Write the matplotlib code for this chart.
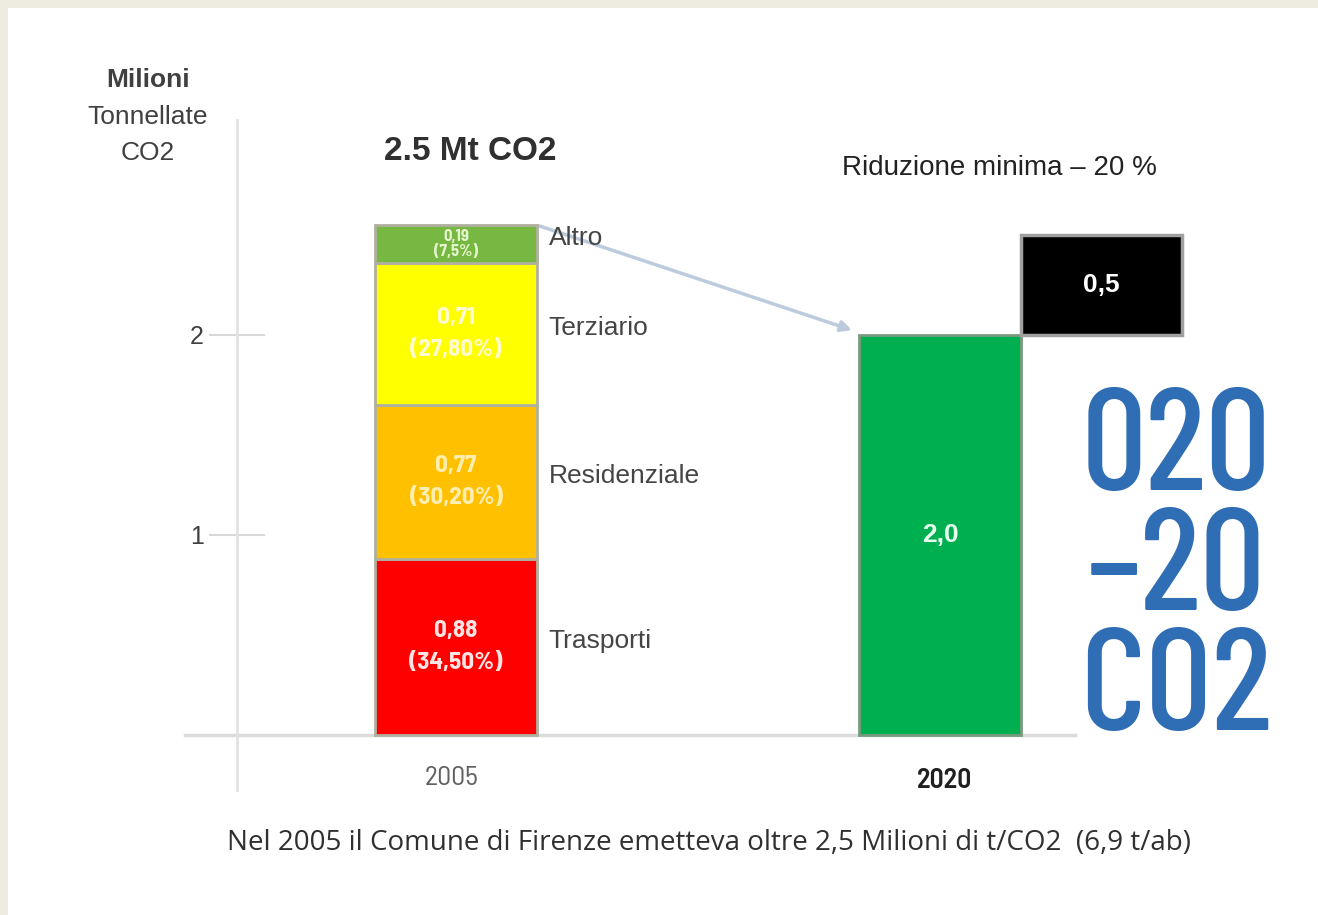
import numpy as np
import matplotlib
matplotlib.use("Agg")
import matplotlib.pyplot as plt
from matplotlib.patches import Rectangle

# data
years = ["2005", "2020"]
sectors = ["Trasporti", "Residenziale", "Terziario", "Altro"]
sector_values = [0.88, 0.77, 0.71, 0.19]
sector_labels = ["0,88\n(34,50%)", "0,77\n(30,20%)", "0,71\n(27,80%)", "0,19\n(7,5%)"]
target_2020 = 2.0
reduction = 0.5
target_label = "2,0"
reduction_label = "0,5"
y_ticks = [1, 2]

sector_colors = ["#ff0000", "#ffc000", "#ffff00", "#77b843"]
sector_text_colors = ["#ffe4e4", "#ffeeb0", "#fffbd0", "#e4f4cc"]
semi = ["Barlow Semi Condensed", "DejaVu Sans"]
sans = ["Liberation Sans", "DejaVu Sans"]

W, H = 1318, 915
fig = plt.figure(figsize=(W / 100, H / 100), dpi=100)
fig.patch.set_facecolor("#eeebe0")
fig.patches.append(Rectangle((8 / W, 0), 1, 1 - 8 / H, transform=fig.transFigure,
                             facecolor="white", edgecolor="none", zorder=-5))

# axes placed in pixel space: left spine at x=237, from y=120 to y=790
ax_l, ax_r, ax_t, ax_b = 237, 1262, 120, 790
ax = fig.add_axes([ax_l / W, 1 - ax_b / H, (ax_r - ax_l) / W, (ax_b - ax_t) / H])
ax.set_facecolor("none")

px_per_x = 484.0   # pixel distance between the two category centres
px_per_y = 200.0
x0_px, y0_px = 456, 735
ax.set_xlim((ax_l - x0_px) / px_per_x, (ax_r - x0_px) / px_per_x)
ax.set_ylim(-(ax_b - y0_px) / px_per_y, (y0_px - ax_t) / px_per_y)

x = np.arange(len(years))
width = 0.333

# 2005 stacked bar
bottom = 0
for val, col, lab, tcol, name in zip(sector_values, sector_colors, sector_labels,
                                     sector_text_colors, sectors):
    ax.bar(x[0], val, width, bottom=bottom, color=col, edgecolor="#b0b0a0",
           linewidth=2, zorder=3)
    small = val < 0.3
    ax.text(x[0], bottom + val / 2, lab, ha="center", va="center",
            fontsize=12 if small else 18, fontweight="bold", color=tcol,
            linespacing=1.05 if small else 1.6, zorder=4, family=semi)
    ax.text(x[0] + width / 2 + 0.025, bottom + val / 2 + 0.03, name, ha="left",
            va="center", fontsize=19, color="#454545", zorder=4, family=sans)
    bottom += val

# 2020 target and reduction
ax.bar(x[1], target_2020, width, color="#00b050", edgecolor="#7a9a80",
       linewidth=2, zorder=3)
ax.text(x[1], target_2020 / 2, target_label, ha="center", va="center",
        fontsize=19, fontweight="bold", color="#e8fff0", zorder=4, family=sans)
ax.bar(x[1] + width, reduction, width, bottom=target_2020, color="black",
       edgecolor="#a0a0a0", linewidth=2.5, zorder=3)
ax.text(x[1] + width, target_2020 + reduction / 2, reduction_label, ha="center",
        va="center", fontsize=19, fontweight="bold", color="white", zorder=4,
        family=sans)

# arrow from 2005 total down to 2020 target
ax.annotate("", xy=(x[1] - width / 2 - 0.01, target_2020 + 0.02),
            xytext=(x[0] + width / 2, sum(sector_values)),
            arrowprops=dict(arrowstyle="-|>", color="#bccbdc", lw=2.5,
                            mutation_scale=16), zorder=2)

# axis cosmetics
for s in ["top", "right", "bottom"]:
    ax.spines[s].set_visible(False)
ax.spines["left"].set_color("#e2e2e2")
ax.spines["left"].set_linewidth(2)
ax.set_xticks([])
ax.set_yticks(y_ticks)
ax.set_yticklabels([str(t) for t in y_ticks], fontsize=18, color="#404040",
                   family=sans)
ax.tick_params(axis="y", direction="inout", length=40, width=1.5,
               color="#d8d8d8", pad=4)
ax.plot([(185 - x0_px) / px_per_x, (1075 - x0_px) / px_per_x], [0, 0],
        color="#dcdcdc", lw=2.5, clip_on=False, zorder=2)

ax.text(x[0] - 0.01, -0.215, years[0], ha="center", va="center", fontsize=20,
        color="#606060", family=semi)
ax.text(x[1] + 0.01, -0.225, years[1], ha="center", va="center", fontsize=20,
        color="#202020", fontweight="semibold", family=semi)

# titles and annotations
fig.text(148 / W, 1 - 80 / H, "Milioni", ha="center", va="center",
         fontsize=19, color="#404040", fontweight="bold", family=sans)
fig.text(148 / W, 1 - 117 / H, "Tonnellate", ha="center", va="center",
         fontsize=19, color="#404040", family=sans)
fig.text(148 / W, 1 - 153 / H, "CO2", ha="center", va="center",
         fontsize=19, color="#404040", family=sans)
fig.text(384 / W, 1 - 151 / H, "2.5 Mt CO2", ha="left", va="center", fontsize=24,
         fontweight="bold", color="#303030", family=sans)
fig.text(999 / W, 1 - 168 / H, "Riduzione minima \u2013 20 %", ha="center",
         va="center", fontsize=20, color="#222222", family=sans)
fig.text(709 / W, 1 - 843 / H,
         "Nel 2005 il Comune di Firenze emetteva oltre 2,5 Milioni di t/CO2  (6,9 t/ab)",
         ha="center", va="center", fontsize=20, color="#303030",
         family=["Open Sans", "DejaVu Sans"])

# 2020-20-CO2 logo
for i, line in enumerate(["020", "\u201320", "CO2"]):
    fig.text(1176 / W, 1 - (453 + i * 120) / H, line, ha="center", va="center",
             fontsize=104, fontweight="medium", color="#2f6db5",
             family=["Barlow Condensed", "DejaVu Sans"])

fig.savefig("out.png", dpi=100)
